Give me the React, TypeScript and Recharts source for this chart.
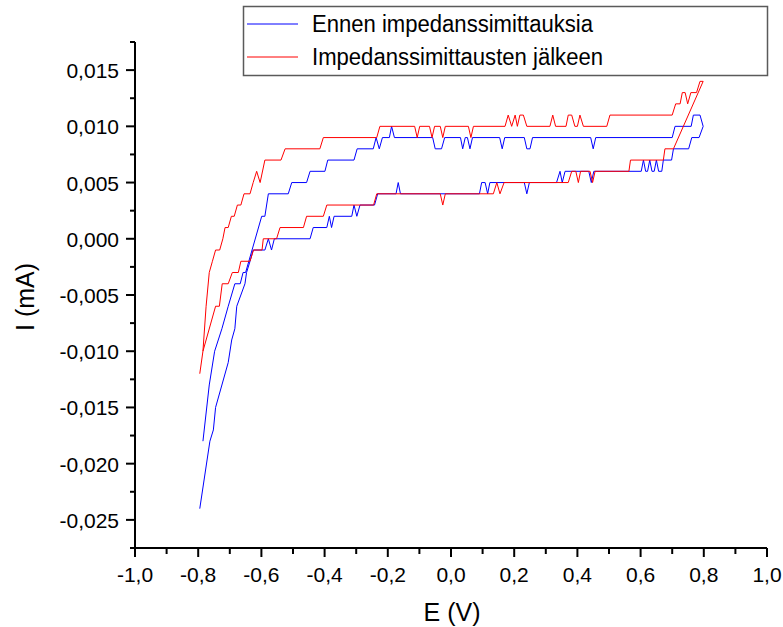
import React from 'react';
import { LineChart, Line, XAxis, YAxis } from 'recharts';

// Cyclic voltammograms, vertices of each trace as [E (V), I (mA)]
const blueForward: [number, number][] = [
  [-0.785, -0.018], [-0.765, -0.013], [-0.748, -0.01], [-0.725, -0.008], [-0.705, -0.006],
  [-0.684, -0.004], [-0.667, -0.004], [-0.658, -0.003], [-0.65, -0.003], [-0.599, 0.002],
  [-0.589, 0.002], [-0.578, 0.004], [-0.515, 0.004], [-0.504, 0.005], [-0.457, 0.005],
  [-0.446, 0.006], [-0.399, 0.006], [-0.39, 0.007], [-0.307, 0.007], [-0.297, 0.008],
  [-0.246, 0.008], [-0.237, 0.009], [-0.227, 0.008], [-0.217, 0.009], [-0.195, 0.009],
  [-0.188, 0.01], [-0.179, 0.009], [-0.058, 0.009], [-0.05, 0.008], [-0.03, 0.008],
  [-0.02, 0.009], [0.03, 0.009], [0.037, 0.008], [0.045, 0.009], [0.052, 0.009],
  [0.06, 0.008], [0.068, 0.009], [0.154, 0.009], [0.162, 0.008], [0.17, 0.009],
  [0.232, 0.009], [0.24, 0.008], [0.25, 0.008], [0.258, 0.009], [0.442, 0.009],
  [0.45, 0.008], [0.458, 0.009], [0.7, 0.009], [0.709, 0.01], [0.76, 0.01],
  [0.767, 0.011], [0.788, 0.011], [0.798, 0.01],
];

const blueReverse: [number, number][] = [
  [0.785, 0.009], [0.762, 0.009], [0.752, 0.008], [0.704, 0.008], [0.698, 0.007],
  [0.672, 0.007], [0.667, 0.006], [0.657, 0.006], [0.65, 0.007], [0.643, 0.006],
  [0.636, 0.006], [0.629, 0.007], [0.622, 0.006], [0.616, 0.006], [0.609, 0.007],
  [0.602, 0.006], [0.452, 0.006], [0.444, 0.005], [0.436, 0.006], [0.361, 0.006],
  [0.352, 0.005], [0.345, 0.006], [0.334, 0.005], [0.248, 0.005], [0.24, 0.004],
  [0.232, 0.005], [0.123, 0.005], [0.116, 0.004], [0.108, 0.005], [0.097, 0.005],
  [0.09, 0.004], [-0.16, 0.004], [-0.167, 0.005], [-0.174, 0.004], [-0.232, 0.004],
  [-0.242, 0.003], [-0.288, 0.003], [-0.298, 0.002], [-0.307, 0.003], [-0.314, 0.002],
  [-0.37, 0.002], [-0.378, 0.001], [-0.385, 0.002], [-0.393, 0.001], [-0.436, 0.001],
  [-0.446, 0], [-0.559, 0], [-0.568, -0.001], [-0.578, 0], [-0.589, -0.001],
  [-0.626, -0.001], [-0.636, -0.002], [-0.647, -0.003], [-0.652, -0.004], [-0.665, -0.005],
  [-0.678, -0.006], [-0.684, -0.008], [-0.694, -0.009], [-0.705, -0.011], [-0.745, -0.015],
  [-0.752, -0.017], [-0.763, -0.018], [-0.795, -0.024],
];

const redForward: [number, number][] = [
  [-0.795, -0.012], [-0.785, -0.01], [-0.775, -0.006], [-0.765, -0.003], [-0.755, -0.002],
  [-0.745, -0.001], [-0.732, -0.001], [-0.722, 0], [-0.715, 0.001], [-0.705, 0.001],
  [-0.695, 0.002], [-0.686, 0.002], [-0.676, 0.003], [-0.665, 0.003], [-0.655, 0.004],
  [-0.636, 0.004], [-0.626, 0.005], [-0.615, 0.006], [-0.604, 0.005], [-0.589, 0.007],
  [-0.538, 0.007], [-0.525, 0.008], [-0.415, 0.008], [-0.404, 0.009], [-0.235, 0.009],
  [-0.225, 0.01], [-0.115, 0.01], [-0.107, 0.009], [-0.099, 0.01], [-0.068, 0.01],
  [-0.06, 0.009], [-0.052, 0.01], [-0.034, 0.01], [-0.026, 0.009], [-0.018, 0.01],
  [0.055, 0.01], [0.063, 0.009], [0.071, 0.01], [0.171, 0.01], [0.181, 0.011],
  [0.192, 0.01], [0.203, 0.011], [0.21, 0.01], [0.218, 0.011], [0.229, 0.011],
  [0.24, 0.01], [0.313, 0.01], [0.322, 0.011], [0.331, 0.01], [0.364, 0.01],
  [0.371, 0.011], [0.382, 0.011], [0.392, 0.01], [0.4, 0.01], [0.408, 0.011],
  [0.419, 0.01], [0.493, 0.01], [0.503, 0.011], [0.7, 0.011], [0.711, 0.012],
  [0.725, 0.012], [0.732, 0.013], [0.741, 0.013], [0.749, 0.012], [0.759, 0.013],
  [0.777, 0.013], [0.788, 0.014], [0.798, 0.014],
];

const redReverse: [number, number][] = [
  [0.704, 0.008], [0.677, 0.008], [0.672, 0.007], [0.568, 0.007], [0.563, 0.006],
  [0.456, 0.006], [0.448, 0.005], [0.44, 0.006], [0.41, 0.006], [0.403, 0.005],
  [0.395, 0.006], [0.382, 0.006], [0.371, 0.005], [0.168, 0.005], [0.155, 0.004],
  [0.145, 0.005], [0.134, 0.004], [-0.018, 0.004], [-0.026, 0.003], [-0.034, 0.004],
  [-0.235, 0.004], [-0.245, 0.003], [-0.393, 0.003], [-0.404, 0.002], [-0.457, 0.002],
  [-0.467, 0.001], [-0.541, 0.001], [-0.552, 0], [-0.594, 0], [-0.598, -0.001],
  [-0.625, -0.001], [-0.636, -0.002], [-0.665, -0.002], [-0.673, -0.003], [-0.692, -0.003],
  [-0.705, -0.004], [-0.724, -0.004], [-0.733, -0.006], [-0.745, -0.006], [-0.785, -0.01],
];

const xTicks = [-1, -0.9, -0.8, -0.7, -0.6, -0.5, -0.4, -0.3, -0.2, -0.1, 0, 0.1, 0.2, 0.3, 0.4, 0.5, 0.6, 0.7, 0.8, 0.9, 1];
const yTicks = [-0.0275, -0.025, -0.0225, -0.02, -0.0175, -0.015, -0.0125, -0.01, -0.0075, -0.005, -0.0025, 0,
  0.0025, 0.005, 0.0075, 0.01, 0.0125, 0.015, 0.0175];

const seriesNames = ['Ennen impedanssimittauksia', 'Impedanssimittausten jälkeen'];
const BLUE = '#0000ff';
const RED = '#ff0000';
const FONT = '"Liberation Sans", Arial, Helvetica, sans-serif';

const toPoints = (rows: [number, number][]) => rows.map(([E, I]) => ({ E, I }));
const blueData = toPoints([...blueForward, ...blueReverse]);
const redData = toPoints([...redForward, ...redReverse]);

function XTick({ x, y, payload }: any) {
  const v = payload.value as number;
  const major = Math.round(v * 10) % 2 === 0;
  return (
    <g>
      <line x1={x} x2={x} y1={y} y2={y + (major ? 9 : 6)} stroke="#000" strokeWidth={2} />
      {major && (
        <text x={x} y={y + 34} textAnchor="middle" fontSize={21} fontFamily={FONT} fill="#000">
          {v.toFixed(1).replace('.', ',')}
        </text>
      )}
    </g>
  );
}

function YTick({ x, y, payload }: any) {
  const v = payload.value as number;
  const major = Math.round(v * 10000) % 50 === 0;
  return (
    <g>
      <line x1={x - (major ? 9 : 5)} x2={x} y1={y} y2={y} stroke="#000" strokeWidth={2} />
      {major && (
        <text x={x - 16} y={y + 8} textAnchor="end" fontSize={21} fontFamily={FONT} fill="#000">
          {v.toFixed(3).replace('.', ',')}
        </text>
      )}
    </g>
  );
}

export default function App() {
  return (
    <div style={{ position: 'absolute', left: 0, top: 0, width: 783, height: 627, background: '#fff' }}>
      <LineChart width={783} height={627} margin={{ top: 42, right: 16, bottom: 0, left: 0 }}>
        <XAxis
          type="number"
          dataKey="E"
          domain={[-1, 1]}
          ticks={xTicks}
          interval={0}
          allowDataOverflow
          height={79}
          tickSize={0}
          tickMargin={0}
          tickLine={false}
          axisLine={{ stroke: '#000', strokeWidth: 2 }}
          tick={<XTick />}
        />
        <YAxis
          type="number"
          dataKey="I"
          domain={[-0.0275, 0.0175]}
          ticks={yTicks}
          interval={0}
          allowDataOverflow
          width={135}
          tickSize={0}
          tickMargin={0}
          tickLine={false}
          axisLine={{ stroke: '#000', strokeWidth: 2 }}
          tick={<YTick />}
        />
        <Line data={blueData} dataKey="I" name={seriesNames[0]} type="linear" stroke={BLUE} strokeWidth={1}
          dot={false} activeDot={false} isAnimationActive={false} />
        <Line data={redData} dataKey="I" name={seriesNames[1]} type="linear" stroke={RED} strokeWidth={1}
          dot={false} activeDot={false} isAnimationActive={false} />
      </LineChart>

      {/* legend box and axis titles */}
      <svg width={783} height={627} style={{ position: 'absolute', left: 0, top: 0, pointerEvents: 'none' }}>
        <rect x={243.5} y={6.5} width={524} height={69} fill="#fff" stroke="#5a5a5a" strokeWidth={1.5} />
        <line x1={247} x2={298} y1={24} y2={24} stroke={BLUE} strokeWidth={1} />
        <line x1={247} x2={298} y1={57} y2={57} stroke={RED} strokeWidth={1} />
        <text x={312} y={32} fontSize={23} fontFamily={FONT} textLength={281} lengthAdjust="spacingAndGlyphs">{seriesNames[0]}</text>
        <text x={312} y={65} fontSize={23} fontFamily={FONT} textLength={291} lengthAdjust="spacingAndGlyphs">{seriesNames[1]}</text>
        <text x={452} y={621} fontSize={25} fontFamily={FONT} textAnchor="middle">E (V)</text>
        <text x={34} y={297} fontSize={25} fontFamily={FONT} textAnchor="middle" transform="rotate(-90 34 297)">I (mA)</text>
      </svg>
    </div>
  );
}
